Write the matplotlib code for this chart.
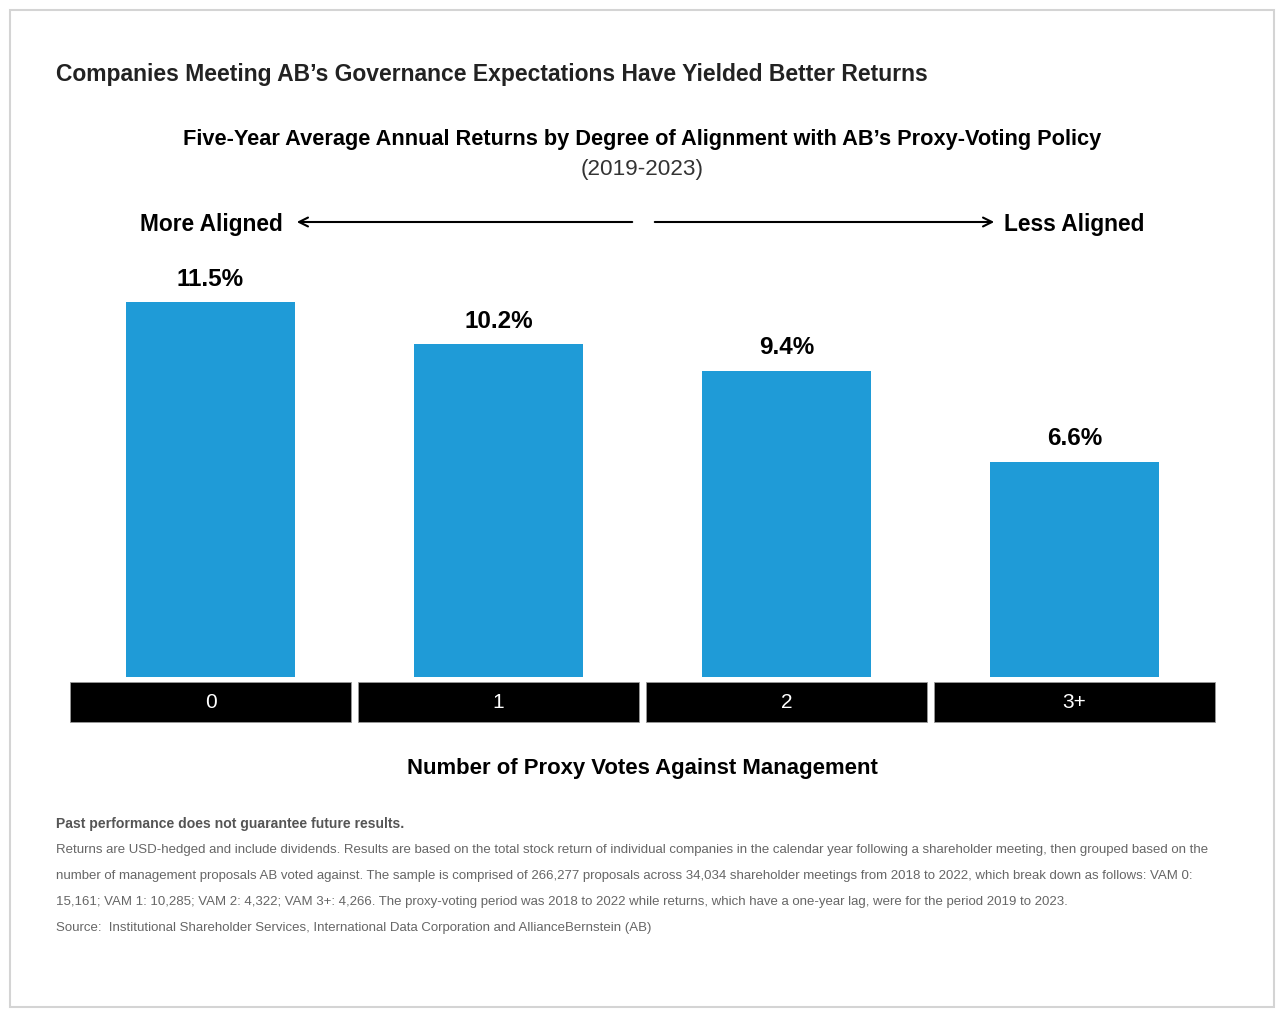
import matplotlib.pyplot as plt
from matplotlib.patches import Rectangle, FancyArrowPatch

# Chart data
categories = ['0', '1', '2', '3+']
returns = [11.5, 10.2, 9.4, 6.6]
value_labels = ['11.5%', '10.2%', '9.4%', '6.6%']

title = 'Companies Meeting AB\u2019s Governance Expectations Have Yielded Better Returns'
subtitle = 'Five-Year Average Annual Returns by Degree of Alignment with AB\u2019s Proxy-Voting Policy'
period = '(2019-2023)'
xlabel = 'Number of Proxy Votes Against Management'
note_bold = 'Past performance does not guarantee future results.'
note_lines = [
    'Returns are USD-hedged and include dividends. Results are based on the total stock return of individual companies in the calendar year following a shareholder meeting, then grouped based on the',
    'number of management proposals AB voted against. The sample is comprised of 266,277 proposals across 34,034 shareholder meetings from 2018 to 2022, which break down as follows: VAM 0:',
    '15,161; VAM 1: 10,285; VAM 2: 4,322; VAM 3+: 4,266. The proxy-voting period was 2018 to 2022 while returns, which have a one-year lag, were for the period 2019 to 2023.',
    'Source:  Institutional Shareholder Services, International Data Corporation and AllianceBernstein (AB)',
]

W, H = 1280, 1013
fig = plt.figure(figsize=(W / 100, H / 100), dpi=100)
fig.patch.set_facecolor('white')
FONT = 'Liberation Sans'

def fy(py):
    # Liberation's centre sits a little high, nudge down 2px
    return 1 - (py + 2) / H

def fx(px):
    return px / W

# outer frame
fig.add_artist(Rectangle((fx(10), 1 - 1007 / H), fx(1264), (1007 - 10) / H,
                         transform=fig.transFigure, fill=False,
                         edgecolor='#d4d4d4', linewidth=1.5))

# axes: baseline at y=677px, 1% ~ 32.6px
px_per_pct = 32.6
top_px = 260
bot_px = 725
ax = fig.add_axes([fx(66.5), 1 - bot_px / H, 1152 / W, (bot_px - top_px) / H])
ymax = (677 - top_px) / px_per_pct
ymin = -(bot_px - 677) / px_per_pct
ax.set_xlim(-0.5, len(categories) - 0.5)
ax.set_ylim(ymin, ymax)
ax.axis('off')

x = range(len(categories))
ax.bar(x, returns, width=0.587, color='#1f9bd7', zorder=2)

# black category boxes
box_bottom = -(722 - 677) / px_per_pct
box_h = (722 - 682) / px_per_pct
ax.bar(x, [box_h] * len(categories), bottom=box_bottom, width=0.976,
       color='black', edgecolor='#999999', linewidth=0.6, zorder=2)

for i, cat in enumerate(categories):
    ax.text(i, box_bottom + box_h / 2, cat, ha='center', va='center',
            color='white', fontsize=15, family=FONT)

for i, (v, lab) in enumerate(zip(returns, value_labels)):
    ax.annotate(lab, (i, v), xytext=(0, 23), textcoords='offset pixels',
                ha='center', va='center', fontsize=17.5, fontweight='bold',
                family=FONT, color='black')

# titles
fig.text(fx(56), fy(72), title, ha='left', va='center', fontsize=16.5,
         fontweight='bold', family=FONT, color='#222222')
fig.text(fx(642), fy(137), subtitle, ha='center', va='center', fontsize=15.7,
         fontweight='bold', family=FONT, color='black')
fig.text(fx(642), fy(167), period, ha='center', va='center', fontsize=16.2,
         family=FONT, color='#333333')

# alignment arrows
fig.text(fx(283), fy(222), 'More Aligned', ha='right', va='center',
         fontsize=16.4, fontweight='bold', family=FONT)
fig.text(fx(1004), fy(222), 'Less Aligned', ha='left', va='center',
         fontsize=16.4, fontweight='bold', family=FONT)
arrow_style = dict(arrowstyle='->', color='black', lw=1.5, mutation_scale=16)
fig.add_artist(FancyArrowPatch((fx(635), 1 - 222 / H), (fx(294), 1 - 222 / H),
                               transform=fig.transFigure, **arrow_style))
fig.add_artist(FancyArrowPatch((fx(652), 1 - 222 / H), (fx(997), 1 - 222 / H),
                               transform=fig.transFigure, **arrow_style))

fig.text(fx(642), fy(766), xlabel, ha='center', va='center', fontsize=15.9,
         fontweight='bold', family=FONT, color='black')

# footnotes
fig.text(fx(56), fy(822), note_bold, ha='left', va='center', fontsize=10.1,
         fontweight='bold', family=FONT, color='#555555')
for k, line in enumerate(note_lines):
    fig.text(fx(56), fy(848 + k * 26), line, ha='left', va='center',
             fontsize=9.5, family=FONT, color='#666666')

fig.savefig('out.png', dpi=100)
